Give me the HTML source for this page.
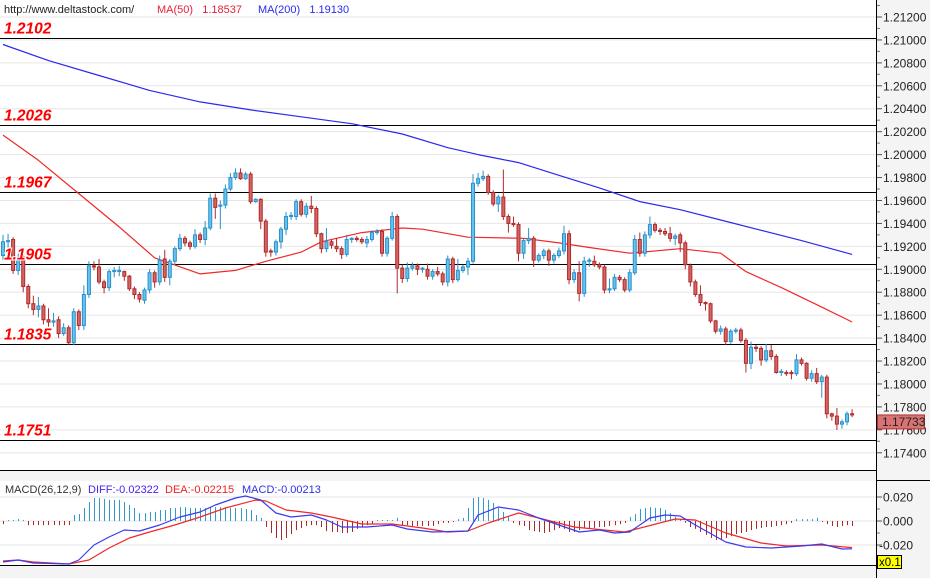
<!DOCTYPE html>
<html><head><meta charset="utf-8"><style>
html,body{margin:0;padding:0;background:#fff;}
svg{display:block;font-family:"Liberation Sans",sans-serif;}
</style></head><body>
<svg id="chart" width="930" height="578" viewBox="0 0 930 578" xmlns="http://www.w3.org/2000/svg">
<rect x="0" y="0" width="930" height="578" fill="#fff"/>
<rect x="0" y="471" width="876" height="10" fill="#f4f4f4"/>
<rect x="0" y="566" width="876" height="12" fill="#f4f4f4"/>
<rect x="876" y="0" width="54" height="578" fill="#f4f4f4"/>
<g id="grid"></g>
<g id="levels"></g>
<g id="ma"></g>
<g id="candles"></g>
<g id="levelLabels"></g>
<g id="macd"></g>
<g id="axis"></g>
<line x1="0" y1="470.5" x2="876" y2="470.5" stroke="#000"/>
<line x1="0" y1="565.5" x2="876" y2="565.5" stroke="#000"/>
<line x1="876.5" y1="0" x2="876.5" y2="578" stroke="#000"/>
<line x1="876" y1="480.5" x2="930" y2="480.5" stroke="#000"/>
<text x="4" y="13" font-size="11" fill="#222">http://www.deltastock.com/</text>
<text x="157" y="13" font-size="11" fill="#e8203a">MA(50)&#160;&#160;&#160;1.18537</text>
<text x="258" y="13" font-size="11" fill="#2a2aee">MA(200)&#160;&#160;&#160;1.19130</text>
<text x="5" y="493" font-size="11" fill="#333">MACD(26,12,9)</text>
<text x="88" y="493" font-size="11" fill="#4a20f0">DIFF:-0.02322</text>
<text x="165" y="493" font-size="11" fill="#f02020">DEA:-0.02215</text>
<text x="242" y="493" font-size="11" fill="#3030e0">MACD:-0.00213</text>
</svg>
<script>
const opens=[1.1912,1.1924,1.1926,1.1899,1.1911,1.1885,1.1870,1.1865,1.1868,1.1856,1.1854,1.1856,1.1844,1.1849,1.1836,1.1863,1.1851,1.1878,1.1903,1.1902,1.1889,1.1884,1.1898,1.1898,1.1898,1.1894,1.1883,1.1878,1.1873,1.1882,1.1897,1.1889,1.1909,1.1893,1.1907,1.1918,1.1927,1.1923,1.1920,1.1930,1.1926,1.1936,1.1962,1.1955,1.1956,1.1970,1.1980,1.1984,1.1979,1.1983,1.1959,1.1961,1.1942,1.1916,1.1915,1.1924,1.1935,1.1946,1.1946,1.1959,1.1948,1.1955,1.1953,1.1931,1.1918,1.1924,1.1920,1.1918,1.1913,1.1926,1.1927,1.1926,1.1923,1.1926,1.1932,1.1933,1.1914,1.1927,1.1946,1.1901,1.1892,1.1901,1.1903,1.1900,1.1900,1.1894,1.1898,1.1896,1.1889,1.1909,1.1891,1.1899,1.1902,1.1907,1.1975,1.1979,1.1981,1.1967,1.1957,1.1963,1.1946,1.1940,1.1939,1.1914,1.1925,1.1927,1.1908,1.1912,1.1916,1.1908,1.1912,1.1916,1.1931,1.1891,1.1897,1.1879,1.1907,1.1907,1.1904,1.1902,1.1882,1.1883,1.1893,1.1891,1.1882,1.1897,1.1926,1.1914,1.1930,1.1939,1.1934,1.1933,1.1931,1.1927,1.1930,1.1923,1.1903,1.1889,1.1878,1.1871,1.1870,1.1855,1.1846,1.1848,1.1837,1.1846,1.1847,1.1838,1.1818,1.1832,1.1831,1.1821,1.1829,1.1824,1.1810,1.1810,1.1810,1.1809,1.1821,1.1818,1.1805,1.1809,1.1802,1.1806,1.1774,1.1772,1.1765,1.1767,1.1774];
const closes=[1.1924,1.1925,1.1899,1.1910,1.1885,1.1870,1.1865,1.1868,1.1856,1.1854,1.1855,1.1844,1.1849,1.1836,1.1863,1.1851,1.1878,1.1903,1.1902,1.1889,1.1884,1.1898,1.1899,1.1899,1.1894,1.1883,1.1878,1.1874,1.1882,1.1897,1.1889,1.1908,1.1893,1.1907,1.1918,1.1927,1.1923,1.1920,1.1930,1.1926,1.1936,1.1962,1.1954,1.1956,1.1970,1.1980,1.1984,1.1979,1.1983,1.1959,1.1961,1.1942,1.1915,1.1915,1.1924,1.1935,1.1946,1.1947,1.1959,1.1948,1.1955,1.1953,1.1931,1.1918,1.1924,1.1921,1.1918,1.1913,1.1926,1.1927,1.1926,1.1924,1.1926,1.1932,1.1933,1.1914,1.1927,1.1946,1.1901,1.1892,1.1901,1.1903,1.1900,1.1901,1.1894,1.1898,1.1896,1.1889,1.1909,1.1891,1.1899,1.1902,1.1907,1.1975,1.1979,1.1981,1.1967,1.1957,1.1963,1.1946,1.1940,1.1939,1.1914,1.1925,1.1927,1.1908,1.1912,1.1916,1.1908,1.1912,1.1916,1.1931,1.1891,1.1897,1.1879,1.1907,1.1908,1.1904,1.1902,1.1882,1.1883,1.1893,1.1891,1.1882,1.1897,1.1926,1.1914,1.1930,1.1939,1.1934,1.1933,1.1931,1.1927,1.1929,1.1923,1.1904,1.1889,1.1878,1.1871,1.1870,1.1855,1.1846,1.1848,1.1837,1.1846,1.1847,1.1838,1.1818,1.1832,1.1831,1.1821,1.1829,1.1824,1.1810,1.1811,1.1809,1.1809,1.1821,1.1818,1.1805,1.1809,1.1802,1.1806,1.1774,1.1772,1.1765,1.1767,1.1774,1.1773];
const highs=[1.1930,1.1931,1.1928,1.1916,1.1913,1.1887,1.1877,1.1876,1.1870,1.1866,1.1862,1.1859,1.1853,1.1851,1.1866,1.1865,1.1886,1.1907,1.1907,1.1909,1.1891,1.1900,1.1902,1.1903,1.1899,1.1895,1.1885,1.1880,1.1884,1.1900,1.1899,1.1912,1.1917,1.1909,1.1920,1.1931,1.1929,1.1925,1.1935,1.1932,1.1942,1.1966,1.1966,1.1960,1.1974,1.1984,1.1988,1.1988,1.1985,1.1985,1.1962,1.1962,1.1944,1.1918,1.1926,1.1937,1.1950,1.1950,1.1961,1.1961,1.1958,1.1964,1.1955,1.1932,1.1936,1.1926,1.1927,1.1920,1.1930,1.1928,1.1929,1.1928,1.1929,1.1934,1.1935,1.1935,1.1929,1.1950,1.1948,1.1904,1.1906,1.1906,1.1905,1.1902,1.1905,1.1900,1.1902,1.1898,1.1912,1.1911,1.1909,1.1904,1.1910,1.1983,1.1984,1.1986,1.1983,1.1969,1.1965,1.1987,1.1948,1.1946,1.1941,1.1927,1.1936,1.1929,1.1914,1.1918,1.1918,1.1914,1.1919,1.1938,1.1934,1.1900,1.1907,1.1911,1.1910,1.1912,1.1906,1.1904,1.1892,1.1896,1.1895,1.1893,1.1900,1.1930,1.1932,1.1933,1.1946,1.1941,1.1936,1.1936,1.1937,1.1931,1.1932,1.1925,1.1905,1.1891,1.1886,1.1872,1.1871,1.1856,1.1851,1.1850,1.1848,1.1849,1.1849,1.1840,1.1837,1.1834,1.1833,1.1835,1.1834,1.1826,1.1813,1.1812,1.1812,1.1826,1.1823,1.1819,1.1812,1.1814,1.1808,1.1808,1.1775,1.1779,1.1769,1.1776,1.1778];
const lows=[1.1908,1.1919,1.1896,1.1895,1.1880,1.1866,1.1860,1.1858,1.1852,1.1850,1.1850,1.1840,1.1842,1.1834,1.1834,1.1847,1.1847,1.1875,1.1899,1.1887,1.1879,1.1881,1.1893,1.1894,1.1890,1.1881,1.1874,1.1871,1.1870,1.1879,1.1884,1.1886,1.1889,1.1886,1.1904,1.1916,1.1920,1.1917,1.1918,1.1923,1.1921,1.1934,1.1944,1.1935,1.1953,1.1968,1.1978,1.1978,1.1978,1.1957,1.1958,1.1935,1.1911,1.1911,1.1912,1.1918,1.1930,1.1943,1.1943,1.1946,1.1945,1.1949,1.1928,1.1914,1.1915,1.1918,1.1915,1.1909,1.1911,1.1923,1.1924,1.1922,1.1919,1.1924,1.1930,1.1911,1.1911,1.1925,1.1879,1.1888,1.1889,1.1899,1.1895,1.1897,1.1891,1.1891,1.1894,1.1886,1.1885,1.1888,1.1889,1.1897,1.1895,1.1905,1.1972,1.1977,1.1965,1.1955,1.1950,1.1943,1.1932,1.1937,1.1907,1.1909,1.1922,1.1902,1.1906,1.1909,1.1903,1.1905,1.1910,1.1913,1.1887,1.1888,1.1872,1.1876,1.1902,1.1902,1.1900,1.1879,1.1879,1.1881,1.1889,1.1880,1.1880,1.1895,1.1911,1.1911,1.1927,1.1932,1.1930,1.1929,1.1924,1.1921,1.1915,1.1900,1.1885,1.1876,1.1868,1.1864,1.1853,1.1844,1.1843,1.1834,1.1835,1.1844,1.1836,1.1810,1.1813,1.1828,1.1816,1.1819,1.1821,1.1809,1.1807,1.1807,1.1804,1.1807,1.1816,1.1803,1.1802,1.1800,1.1788,1.1770,1.1768,1.1760,1.1761,1.1764,1.1771];
const ma50Idx=[0,7,15,23,30,39,46,52,59,63,71,79,83,92,103,110,116,124,134,142,147,154,162,168];
const ma50Val=[1.2017,1.1995,1.1966,1.1937,1.1910,1.1896,1.1899,1.1907,1.1915,1.1924,1.1932,1.1936,1.1935,1.1928,1.1927,1.1923,1.1919,1.1914,1.1918,1.1914,1.1898,1.1884,1.1867,1.1854];
const ma200Idx=[0,9,19,29,39,49,59,69,79,88,94,102,110,118,126,134,142,150,158,168];
const ma200Val=[1.2096,1.2082,1.2069,1.2056,1.2046,1.2039,1.2033,1.2027,1.2018,1.2006,1.2000,1.1993,1.1982,1.1971,1.1959,1.1952,1.1943,1.1934,1.1925,1.1913];
const levels=[1.2102,1.2026,1.1967,1.1905,1.1835,1.1751];
const priceTicks=[1.212,1.210,1.208,1.206,1.204,1.202,1.200,1.198,1.196,1.194,1.192,1.190,1.188,1.186,1.184,1.182,1.180,1.178,1.176,1.174];
const diffIdx=[0,3,6,13,15,18,21,24,27,31,35,39,42,46,48,51,54,57,61,64,67,72,77,80,85,92,94,98,102,106,110,114,118,121,124,128,131,134,137,143,147,152,158,162,166,168];
const diffVal=[-0.0342,-0.0325,-0.0350,-0.0358,-0.0325,-0.0200,-0.0133,-0.0075,-0.0083,-0.0033,0.0033,0.0075,0.0133,0.0192,0.0208,0.0175,0.0067,0.0033,0.0050,0.0008,-0.0050,-0.0050,-0.0033,-0.0067,-0.0092,-0.0083,0.0050,0.0117,0.0092,0.0025,-0.0033,-0.0092,-0.0075,-0.0100,-0.0092,0.0025,0.0050,0.0042,-0.0033,-0.0175,-0.0217,-0.0225,-0.0208,-0.0192,-0.0233,-0.0232];
const deaIdx=[0,3,6,13,17,21,25,29,34,39,44,50,52,56,61,65,71,77,83,88,92,96,102,106,113,123,133,137,143,150,155,162,168];
const deaVal=[-0.0333,-0.0325,-0.0342,-0.0358,-0.0325,-0.0225,-0.0142,-0.0092,-0.0033,0.0033,0.0108,0.0175,0.0167,0.0092,0.0067,0.0033,-0.0025,-0.0025,-0.0058,-0.0092,-0.0083,-0.0017,0.0067,0.0025,-0.0050,-0.0092,0.0017,0.0008,-0.0100,-0.0183,-0.0208,-0.0200,-0.0222];
const histVal=[-0.0013,0.0004,0.0004,0.0008,0.0004,-0.0017,-0.0017,-0.0017,-0.0017,-0.0017,-0.0017,-0.0017,-0.0017,-0.0017,0.0025,0.0029,0.0054,0.0079,0.0096,0.0096,0.0092,0.0088,0.0088,0.0088,0.0079,0.0067,0.0054,0.0033,0.0033,0.0038,0.0038,0.0046,0.0046,0.0054,0.0054,0.0058,0.0058,0.0054,0.0054,0.0054,0.0054,0.0058,0.0058,0.0058,0.0054,0.0054,0.0054,0.0054,0.0050,0.0046,0.0025,0.0013,-0.0025,-0.0050,-0.0071,-0.0079,-0.0071,-0.0054,-0.0038,-0.0029,-0.0021,-0.0017,-0.0017,-0.0025,-0.0042,-0.0046,-0.0046,-0.0050,-0.0050,-0.0046,-0.0033,-0.0025,-0.0017,-0.0013,0.0004,0.0004,0.0004,0.0004,0.0013,-0.0017,-0.0017,-0.0021,-0.0021,-0.0021,-0.0021,-0.0021,-0.0013,-0.0008,-0.0008,-0.0004,0.0008,0.0013,0.0054,0.0096,0.0100,0.0096,0.0088,0.0075,0.0054,0.0038,0.0017,-0.0008,-0.0017,-0.0021,-0.0038,-0.0042,-0.0046,-0.0050,-0.0046,-0.0038,-0.0029,-0.0033,-0.0046,-0.0046,-0.0038,-0.0029,-0.0029,-0.0029,-0.0025,-0.0025,-0.0021,-0.0017,-0.0013,-0.0008,0.0017,0.0029,0.0050,0.0054,0.0058,0.0054,0.0054,0.0046,0.0033,0.0017,0.0008,-0.0008,-0.0025,-0.0033,-0.0046,-0.0058,-0.0071,-0.0079,-0.0079,-0.0071,-0.0063,-0.0054,-0.0050,-0.0046,-0.0038,-0.0033,-0.0029,-0.0025,-0.0025,-0.0021,-0.0017,-0.0013,-0.0008,0.0008,0.0008,0.0008,0.0008,0.0013,-0.0004,-0.0013,-0.0021,-0.0025,-0.0021,-0.0017,-0.0021];
const macdTicks=[0.02,0,-0.02];

const NS='http://www.w3.org/2000/svg';
function xS(i){return 3+i*5.054;}
function yP(p){return 17+(1.212-p)*11468;}
function yM(v){return 521-v*1200;}
function yH(v){return v*2400;}
function mk(tag,attrs,parent){const e=document.createElementNS(NS,tag);for(const k in attrs)e.setAttribute(k,attrs[k]);document.getElementById(parent).appendChild(e);return e;}

priceTicks.forEach(function(t){
  const g=mk('line',{x1:0,x2:876,y1:yP(t),y2:yP(t),stroke:'#e6e6e6','stroke-width':1},'grid');
  
  
});
macdTicks.forEach(function(t){
  const g=mk('line',{x1:0,x2:876,y1:yM(t),y2:yM(t),stroke:'#e6e6e6','stroke-width':1},'grid');
  
  
});
levels.forEach(function(l){
  const y=Math.round(yP(l))+0.5;
  const ln=mk('line',{x1:0,x2:876,y1:y,y2:y,stroke:'#000','stroke-width':1},'levels');
  
  
  const t=mk('text',{x:4,y:y-5,'font-size':15.5,'font-weight':'bold','font-style':'italic',fill:'#ff0000',stroke:'#fff','stroke-width':2,'paint-order':'stroke'},'levelLabels');
  t.textContent=l.toFixed(4);
  
  
});
function poly(idx,val,yf,color,name,parent){
  const pts=idx.map(function(i,k){return xS(i).toFixed(1)+','+yf(val[k]).toFixed(1);}).join(' ');
  const p=mk('polyline',{points:pts,fill:'none',stroke:color,'stroke-width':1.2,'stroke-linejoin':'round'},parent);
  
  
}
poly(ma200Idx,ma200Val,yP,'#2a2aee','ma200-line','ma');
poly(ma50Idx,ma50Val,yP,'#f02828','ma50-line','ma');
for(let i=0;i<opens.length;i++){
  const o=opens[i],c=closes[i],up=c>=o;
  const x=xS(i);
  const stroke=up?'#2a90cc':'#b02a2a',fill=up?'#66c4ec':'#d46565';
  const w=mk('line',{x1:x,x2:x,y1:yP(highs[i]),y2:yP(lows[i]),stroke:stroke,'stroke-width':1},'candles');
  
  
  const top=yP(Math.max(o,c)),bot=yP(Math.min(o,c));
  const r=mk('rect',{x:x-1.5,y:top,width:3,height:Math.max(0.8,bot-top),fill:fill,stroke:stroke,'stroke-width':1},'candles');
  
  
}
histVal.forEach(function(v,i){
  const x=Math.round(xS(i))+0.5;
  const h=mk('line',{x1:x,x2:x,y1:yM(0),y2:yM(0)-yH(v),stroke:v>=0?'#3399cc':'#aa2a2a','stroke-width':1},'macd');
  
  
});
poly(deaIdx,deaVal,yM,'#f02828','dea-line','macd');
poly(diffIdx,diffVal,yM,'#3a3af0','diff-line','macd');
priceTicks.forEach(function(t,k){
  const y=yP(t);
  const tk=mk('line',{x1:876,x2:882,y1:y,y2:y,stroke:'#555'},'axis');
  
  
  const m=mk('line',{x1:876,x2:880,y1:y-11.5,y2:y-11.5,stroke:'#777'},'axis');
  
  
  const tx=mk('text',{x:883,y:y+4.5,'font-size':12,fill:'#222'},'axis');
  tx.textContent=t.toFixed(5);
  
  
});
macdTicks.forEach(function(t){
  const y=yM(t);
  const tk=mk('line',{x1:876,x2:882,y1:y,y2:y,stroke:'#555'},'axis');
  
  
  const m=mk('line',{x1:876,x2:880,y1:y+12,y2:y+12,stroke:'#777'},'axis');
  
  
  const tx=mk('text',{x:t<0?879:883,y:y+4.5,'font-size':12,fill:'#222'},'axis');
  tx.textContent=t.toFixed(3);
  
  
});
const lastY=yP(closes[closes.length-1]);
const box=mk('rect',{x:877.5,y:lastY,width:47,height:14,fill:'#d97373',stroke:'#b03030'},'axis');


const lt=mk('text',{x:882,y:lastY+11,'font-size':12,fill:'#222'},'axis');
lt.textContent='1.17733';


const yb=mk('rect',{x:877.5,y:555.5,width:24,height:13,fill:'#ffff00',stroke:'#000'},'axis');


const yt=mk('text',{x:879,y:566,'font-size':11.5,fill:'#000'},'axis');
yt.textContent='x0.1';


</script>
</body></html>
